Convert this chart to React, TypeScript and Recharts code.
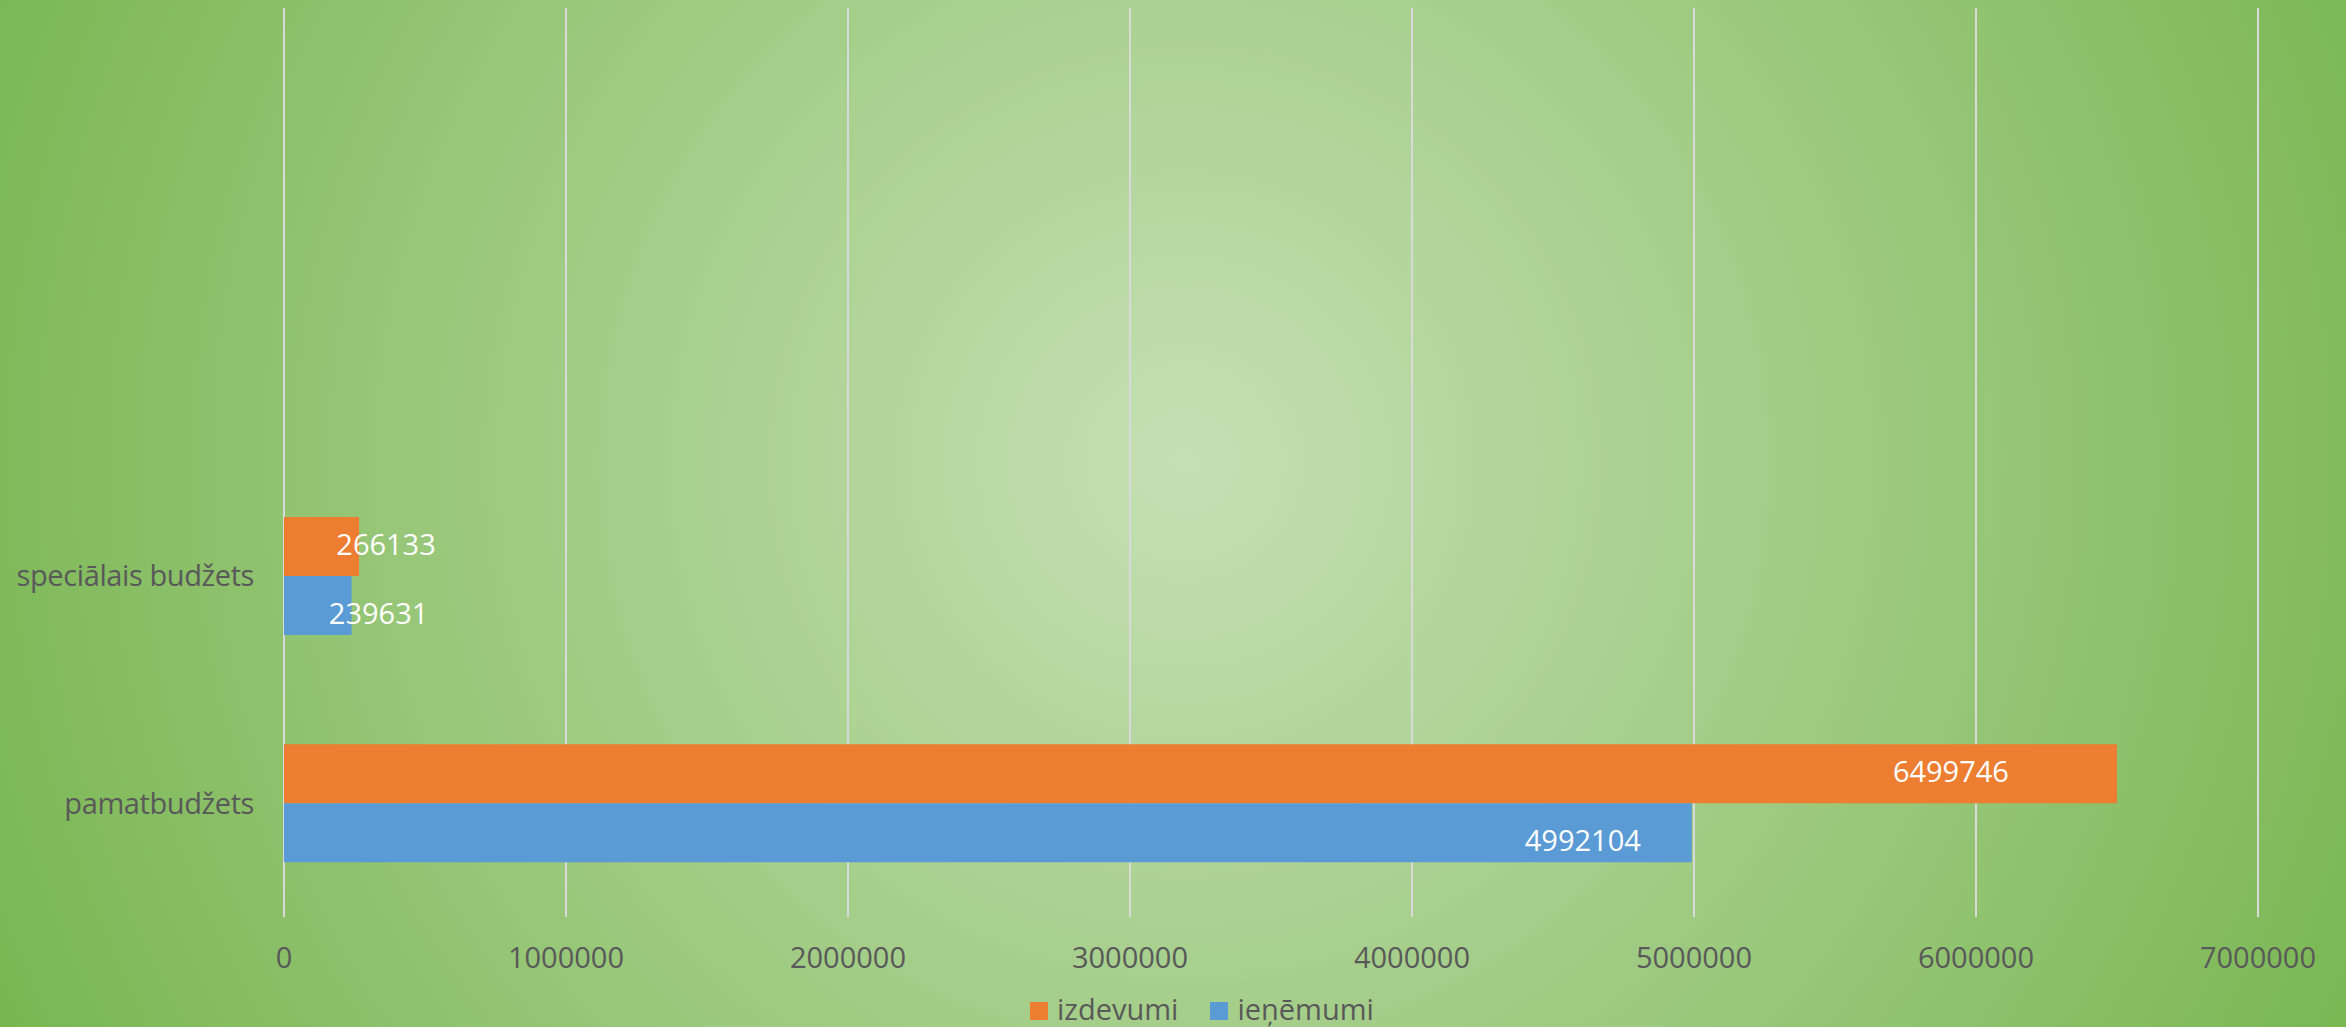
import { BarChart, Bar, XAxis, YAxis, CartesianGrid, Legend, LabelList } from "recharts";

// top two rows are empty in the source sheet
const categories = ["", " ", "speciālais budžets", "pamatbudžets"];
const izdevumi = [null, null, 266133, 6499746];
const ienemumi = [null, null, 239631, 4992104];
const xTicks = [0, 1000000, 2000000, 3000000, 4000000, 5000000, 6000000, 7000000];
const seriesNames = ["izdevumi", "ieņēmumi"];

const data = categories.map((name, i) => ({ name, izdevumi: izdevumi[i], ienemumi: ienemumi[i] }));

const FONT = "'Open Sans', 'Noto Sans', sans-serif";
const TEXT = "#595959";

function makeLabel(inset: number, dy: number) {
  return (props: any) => {
    const { x, y, width, height, value } = props;
    if (value == null) return null;
    const end = Number(x) + Number(width);
    // long bars: label inside near the end, short bars: label spills over the end
    const cx = Number(width) > 300 ? end - inset : end + 27;
    const cy = Number(y) + Number(height) / 2 + 10 + dy;
    return (
      <text x={cx} y={cy} fill="#ffffff" fontSize={29} fontFamily={FONT} textAnchor="middle">
        {value}
      </text>
    );
  };
}

function LegendContent({ payload }: any) {
  const items = [...(payload || [])].sort(
    (a: any, b: any) => seriesNames.indexOf(a.value) - seriesNames.indexOf(b.value)
  );
  return (
    <div style={{ display: "flex", alignItems: "center", fontFamily: FONT, fontSize: 29, lineHeight: "29px", color: TEXT }}>
      {items.map((p: any, i: number) => (
        <div key={p.value} style={{ display: "flex", alignItems: "center", marginLeft: i === 0 ? 0 : 32 }}>
          <span style={{ display: "inline-block", width: 18, height: 18, background: p.color, marginRight: 9, marginTop: 4 }} />
          <span>{p.value}</span>
        </div>
      ))}
    </div>
  );
}

export default function App() {
  return (
    <div
      style={{
        width: 2346,
        height: 1027,
        overflow: "hidden",
        background: "radial-gradient(circle farthest-corner at 50.5% 45%, #c5e0b4 0%, #79b651 100%)",
      }}
    >
      <style>{"body{margin:0}"}</style>
      <BarChart
        width={2346}
        height={1027}
        data={data}
        layout="vertical"
        margin={{ top: 8, right: 88, bottom: 50, left: 14 }}
        barCategoryGap="24%"
        barGap={0}
      >
        <CartesianGrid horizontal={false} stroke="#d9d9d9" strokeWidth={2} />
        <XAxis
          type="number"
          domain={[0, 7000000]}
          ticks={xTicks}
          height={60}
          axisLine={false}
          tickLine={false}
          tickMargin={24}
          tick={{ fontSize: 29, fill: TEXT, fontFamily: FONT }}
        />
        <YAxis
          type="category"
          dataKey="name"
          width={270}
          axisLine={false}
          tickLine={false}
          tickMargin={24}
          tick={{ fontSize: 29, fill: TEXT, fontFamily: FONT, letterSpacing: -0.4 }}
        />
        <Legend
          verticalAlign="middle"
          wrapperStyle={{ top: 994, left: 1030, width: 400, height: 33 }}
          content={<LegendContent />}
        />
        <Bar dataKey="izdevumi" name={seriesNames[0]} fill="#ED7D31" isAnimationActive={false}>
          <LabelList dataKey="izdevumi" content={makeLabel(166, -2)} />
        </Bar>
        <Bar dataKey="ienemumi" name={seriesNames[1]} fill="#5B9BD5" isAnimationActive={false}>
          <LabelList dataKey="ienemumi" content={makeLabel(109, 8)} />
        </Bar>
      </BarChart>
    </div>
  );
}
